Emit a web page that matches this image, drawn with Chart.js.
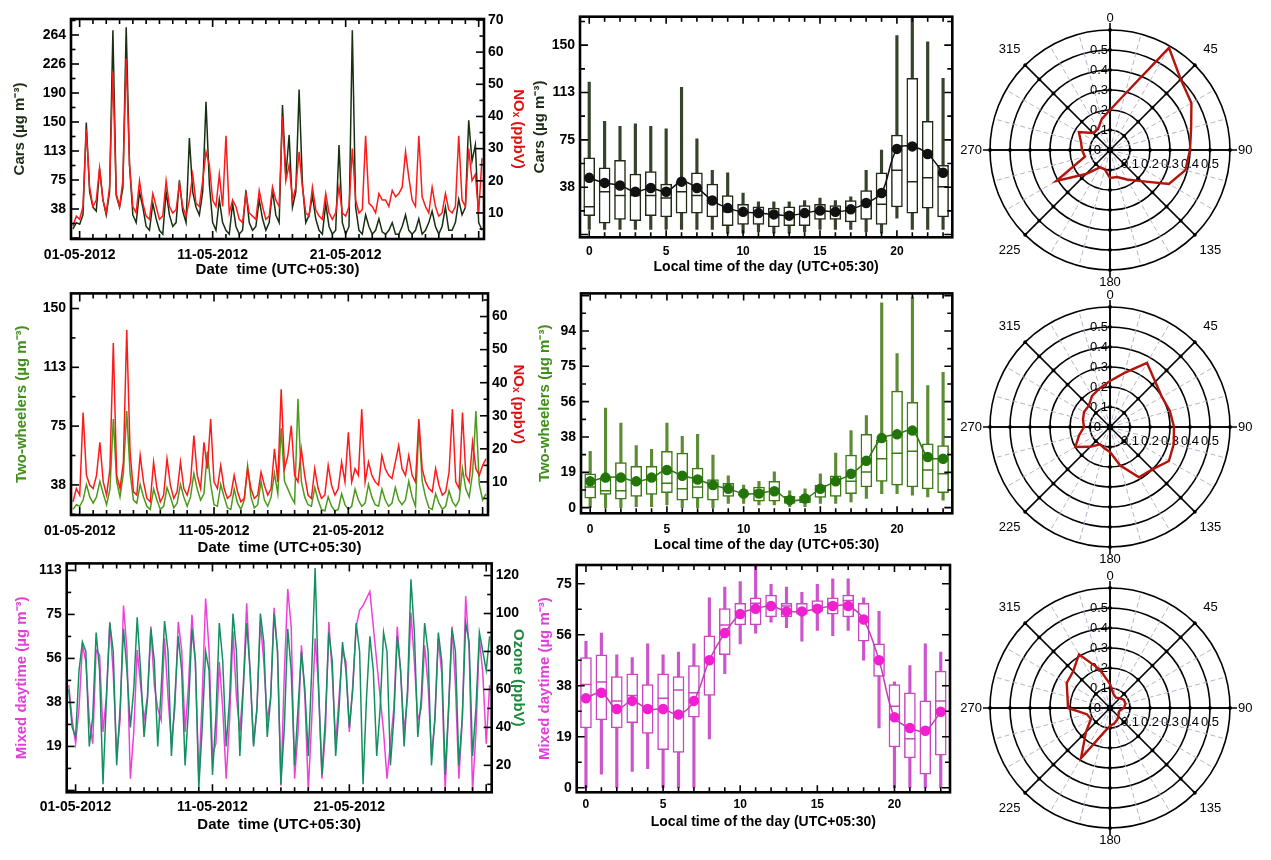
<!DOCTYPE html>
<html>
<head>
<meta charset="utf-8">
<script src="https://cdn.jsdelivr.net/npm/chart.js@4.4.1/dist/chart.umd.min.js"></script>
<style>
  body { margin: 0; background: #fff; width: 1271px; height: 860px; overflow: hidden; position: relative; }
  .p { position: absolute; }
</style>
</head>
<body>
<div class="p" style="left:0;top:0;width:530px;height:285px"><canvas id="ts1"></canvas></div>
<div class="p" style="left:0;top:280px;width:530px;height:285px"><canvas id="ts2"></canvas></div>
<div class="p" style="left:0;top:550px;width:530px;height:310px"><canvas id="ts3"></canvas></div>
<div class="p" style="left:520px;top:0;width:440px;height:285px"><canvas id="bx1"></canvas></div>
<div class="p" style="left:520px;top:280px;width:440px;height:285px"><canvas id="bx2"></canvas></div>
<div class="p" style="left:520px;top:550px;width:440px;height:310px"><canvas id="bx3"></canvas></div>
<div class="p" style="left:960px;top:0;width:311px;height:295px"><canvas id="po1"></canvas></div>
<div class="p" style="left:960px;top:280px;width:311px;height:285px"><canvas id="po2"></canvas></div>
<div class="p" style="left:960px;top:550px;width:311px;height:310px"><canvas id="po3"></canvas></div>

<script>
// Time series: one sample every 6 h, first one at 30-04-2012 12:00 (day -0.5)
const tsStartDay = -0.5;
const tsStepDay = 0.25;
const dateTickLabels = ['01-05-2012', '11-05-2012', '21-05-2012'];

const carsTs = [12, 20,
  18, 30, 150, 60,  40, 35, 90, 50,  30, 60, 270, 55,  40, 65, 274, 95,  30, 20, 60, 40,
  15, 10, 45, 25,  10, 5, 60, 30,  15, 20, 75, 35,  20, 130, 60, 40,  30, 60, 177, 70,
  20, 10, 50, 20,  10, 5, 45, 15,  5, 10, 62, 20,  10, 15, 50, 25,  10, 20, 62, 30,
  20, 173, 80, 134,  40, 60, 193, 70,  20, 30, 55, 25,  10, 5, 45, 15,  5, 10, 121, 20,
  5, 15, 270, 40,  10, 5, 30, 15,  5, 10, 25, 8,  5, 10, 20, 5,  5, 15, 30, 10,
  5, 10, 25, 5,  10, 20, 35, 15,  5, 15, 40, 10,  10, 20, 50, 30,  40, 153, 100, 121,
  20, 10];
const noxTs1 = [6, 9,
  8, 12, 36, 18,  12, 14, 24, 14,  10, 18, 54, 16,  12, 20, 58, 25,  12, 10, 20, 13,
  9, 8, 16, 12,  8, 9, 20, 12,  10, 11, 19, 12,  9, 14, 22, 13,  12, 20, 29, 25,
  14, 12, 22, 12,  34, 10, 14, 12,  8, 7, 16, 10,  9, 8, 17, 12,  8, 9, 18, 14,
  12, 40, 20, 25,  14, 18, 29, 18,  10, 9, 18, 11,  9, 8, 16, 10,  8, 10, 18, 10,
  9, 12, 30, 14,  10, 11, 34, 13,  12, 10, 16, 14,  14, 12, 17, 15,  16, 18, 29, 21,
  14, 12, 34, 15,  12, 10, 18, 12,  9, 10, 16, 11,  10, 12, 34, 14,  12, 30, 20, 22,
  10, 27];
const twoWheelTs = [22, 25,
  24, 28, 38, 30,  26, 30, 40, 32,  25, 35, 80, 40,  30, 45, 85, 45,  28, 26, 38, 30,
  24, 22, 35, 28,  22, 24, 36, 30,  23, 26, 38, 30,  24, 30, 45, 35,  28, 32, 59, 38,
  25, 24, 38, 30,  23, 22, 35, 26,  22, 28, 50, 30,  23, 25, 40, 28,  24, 30, 45, 32,
  74, 40, 35, 30,  26, 93, 40, 30,  25, 24, 36, 28,  22, 21, 30, 24,  21, 22, 32, 25,
  22, 24, 35, 28,  24, 26, 38, 30,  25, 24, 35, 28,  24, 26, 36, 28,  25, 28, 40, 30,
  24, 76, 40, 30,  23, 22, 32, 26,  22, 24, 34, 27,  24, 28, 48, 35,  30, 45, 85, 38,
  28, 32];
const noxTs2 = [4, 8,
  6, 31, 12, 9,  8, 12, 22, 10,  6, 14, 52, 12,  8, 16, 56, 19,  7, 6, 18, 10,
  5, 4, 16, 8,  4, 6, 17, 9,  5, 7, 16, 8,  6, 10, 24, 12,  8, 22, 14, 29,
  10, 8, 15, 8,  5, 6, 12, 7,  4, 5, 14, 8,  5, 6, 13, 9,  6, 8, 20, 10,
  38, 14, 18, 27,  12, 10, 20, 12,  6, 5, 14, 8,  5, 6, 15, 9,  6, 8, 16, 10,
  25, 10, 14, 12,  32, 10, 16, 12,  10, 9, 18, 14,  12, 11, 16, 21,  14, 12, 18, 12,
  10, 29, 14, 10,  8, 7, 14, 9,  6, 7, 13, 32,  10, 8, 31, 12,  10, 22, 14, 12,
  15, 17];
const mixedTs = [45, 30,
  20, 35, 62, 55,  30, 20, 60, 58,  25, 40, 72, 50,  15, 30, 79, 60,  5, 25, 60, 45,
  30, 40, 70, 45,  35, 30, 65, 40,  20, 35, 72, 60,  25, 45, 75, 55,  5, 40, 82, 60,
  15, 20, 55, 35,  5, 30, 68, 40,  25, 45, 80, 50,  20, 35, 72, 55,  30, 40, 78, 60,
  2, 50, 86, 70,  5, 25, 62, 40,  0, 30, 65, 45,  5, 25, 72, 50,  20, 40, 60, 55,
  25, 45, 70, 77,  79, 82, 85, 70,  55, 40, 25, 5,  20, 35, 70, 50,  25, 40, 76, 55,
  30, 35, 62, 45,  15, 30, 65, 50,  0, 35, 70, 45,  5, 30, 83, 60,  0, 25, 65, 50,
  20, 45];
const ozoneTs = [60, 40,
  35, 70, 85, 80,  30, 45, 90, 70,  10, 55, 95, 80,  20, 50, 92, 70,  40, 60, 98, 70,
  35, 55, 92, 75,  30, 60, 96, 80,  25, 55, 88, 70,  20, 50, 92, 75,  8, 40, 80, 70,
  15, 45, 95, 75,  30, 55, 100, 80,  25, 60, 95, 70,  30, 50, 100, 85,  35, 55, 100, 80,
  10, 40, 92, 70,  20, 50, 80, 60,  25, 70, 124, 60,  15, 45, 90, 75,  25, 50, 85, 70,
  40, 60, 95, 80,  10, 55, 88, 70,  25, 50, 90, 80,  20, 45, 88, 70,  30, 60, 118, 90,
  35, 55, 95, 80,  20, 45, 90, 75,  15, 50, 92, 80,  20, 45, 95, 85,  25, 50, 90, 80,
  70, 88];

// Tick labels as printed on the figure
const carsTsTicks = ['38', '75', '113', '150', '190', '226', '264'];
const nox1Ticks = ['10', '20', '30', '40', '50', '60', '70'];
const twoTsTicks = ['38', '75', '113', '150'];
const nox2Ticks = ['10', '20', '30', '40', '50', '60'];
const mixedTsTicks = ['19', '38', '56', '75', '113'];
const ozoneTicks = ['20', '40', '60', '80', '100', '120'];
const hourTicks = ['0', '5', '10', '15', '20'];
const carsBoxTicks = ['38', '75', '113', '150'];
const twoBoxTicks = ['0', '19', '38', '56', '75', '94'];
const mixedBoxTicks = ['0', '19', '38', '56', '75'];

// Diurnal statistics per hour of day
const hours = [0, 1, 2, 3, 4, 5, 6, 7, 8, 9, 10, 11, 12, 13, 14, 15, 16, 17, 18, 19, 20, 21, 22, 23];
const carsLo   = [4, 4, 4, 4, 4, 4, 4, 4, 4, 1, 1, 2, 1, 1, 2, 4, 4, 4, 2, 1, 13, 4, 4, 4];
const carsQ1   = [15, 9, 12, 11, 15, 14, 17, 17, 14, 7, 8, 8, 6, 7, 7, 12, 12, 10, 12, 8, 22, 17, 21, 14];
const carsMed  = [22, 34, 31, 31, 31, 29, 34, 31, 27, 18, 18, 17, 16, 17, 18, 18, 18, 19, 26, 24, 51, 42, 45, 38];
const carsQ3   = [61, 53, 59, 48, 50, 40, 42, 49, 40, 31, 24, 22, 21, 22, 23, 24, 23, 27, 35, 49, 79, 124, 90, 55];
const carsHi   = [121, 90, 86, 88, 86, 84, 117, 76, 51, 49, 33, 26, 26, 26, 27, 29, 27, 30, 51, 67, 158, 175, 153, 124];
const carsMean = [45, 41, 39, 34, 37, 34, 42, 37, 27, 21, 18, 17, 16, 15, 17, 19, 18, 20, 25, 33, 68, 70, 64, 49];

const twoLo   = [0, 0, 0, 0.5, 0.5, 1.4, 0, 0, 0, 2.3, 2.3, 1.4, 1.4, 0.5, 0.5, 2.3, 2.3, 3.1, 4.9, 7.5, 7.5, 6.6, 5.7, 4];
const twoQ1   = [5, 7, 4.5, 6, 7, 8, 4, 5, 4, 6, 6.6, 3.5, 3.5, 2.3, 2.6, 5.4, 6, 7.5, 11, 14, 12, 11, 10, 8];
const twoMed  = [11, 9, 9, 13, 15, 13, 10, 11, 12, 10, 7, 9, 10, 4, 4.4, 10, 15, 14, 19, 26, 29, 30, 20, 18];
const twoQ3   = [18, 16, 24, 22, 22, 30, 29, 21, 15, 13, 7.5, 11, 14, 6, 6, 12, 17, 28, 39, 36, 62, 56, 34, 33];
const twoHi   = [30, 53, 45, 33, 31, 45, 38, 39, 28, 17, 12, 14, 19, 9, 10, 18, 29, 41, 49, 109, 82, 112, 65, 72];
const twoMean = [14, 16, 16, 14, 16, 20, 17, 15, 12, 10, 7.5, 7.5, 8.7, 4, 4.9, 10, 14, 18, 25, 37, 39, 41, 27, 26];

const mixLo   = [0, 5, 0, 6, 7, 0, 0, 0, 18, 42, 53, 57, 61, 59, 54, 58, 56, 58, 47, 22, 0, 0, 0, 0];
const mixQ1   = [22, 25, 22, 24, 20, 14, 13, 26, 34, 49, 60, 60, 63, 63, 64, 65, 64, 63, 54, 41, 15, 11, 5, 12];
const mixMed  = [38, 39, 32, 34, 30, 33, 36, 35, 47, 60, 65, 68, 67, 67, 65, 67, 68, 69, 62, 47, 30, 18, 21, 32];
const mixQ3   = [48, 49, 41, 42, 38, 42, 41, 45, 56, 66, 68, 70, 71, 68, 68, 69, 70, 71, 68, 53, 38, 35, 32, 43];
const mixHi   = [54, 57, 49, 48, 53, 49, 50, 53, 70, 74, 76, 82, 75, 74, 72, 75, 77, 77, 70, 65, 39, 45, 53, 50];
const mixMean = [33, 35, 29, 32, 29, 29, 27, 32, 47, 57, 64, 66, 67, 65, 65, 66, 67, 67, 62, 47, 26, 22, 21, 28];

// Wind direction roses (fraction per 15 degree sector)
const windDirs = [0, 15, 30, 45, 60, 75, 90, 105, 120, 135, 150, 165, 180, 195, 210, 225, 240, 255, 270, 285, 300, 315, 330, 345];
const carsRose     = [0.20, 0.29, 0.59, 0.50, 0.47, 0.42, 0.40, 0.39, 0.34, 0.22, 0.17, 0.14, 0.14, 0.10, 0.10, 0.17, 0.31, 0.13, 0.14, 0.15, 0.18, 0.12, 0.12, 0.16];
const twoWheelRose = [0.23, 0.28, 0.37, 0.32, 0.30, 0.31, 0.32, 0.33, 0.34, 0.30, 0.29, 0.20, 0.125, 0.11, 0.10, 0.14, 0.20, 0.16, 0.13, 0.14, 0.15, 0.15, 0.18, 0.20];
const mixedRose    = [0.12, 0.07, 0.06, 0.07, 0.08, 0.08, 0.07, 0.05, 0.05, 0.06, 0.07, 0.08, 0.09, 0.13, 0.29, 0.17, 0.11, 0.12, 0.21, 0.22, 0.25, 0.26, 0.31, 0.20];
const compassLabels = ['0', '45', '90', '135', '180', '225', '270', '315'];
const ringLabels = ['0', '0.1', '0.2', '0.3', '0.4', '0.5'];

Chart.defaults.font.family = '"Liberation Sans", Arial, sans-serif';
Chart.defaults.color = '#000';

// box frame + inward tick marks on every side
const frame = {
  id: 'frame',
  afterDatasetsDraw(chart, args, o) {
    const {ctx, chartArea: a, scales} = chart;
    ctx.save();
    ctx.strokeStyle = '#000';
    ctx.lineWidth = 1.6;
    const marks = (scale, spec, edges) => {
      if (!spec || !scale) return;
      const k0 = Math.ceil(scale.min / spec.step - 1e-9);
      const k1 = Math.floor(scale.max / spec.step + 1e-9);
      for (let k = k0; k <= k1; k++) {
        const p = scale.getPixelForValue(k * spec.step);
        const len = k % spec.every === 0 ? spec.major : spec.minor;
        ctx.beginPath();
        edges.forEach(e => {
          if (e === 'bottom') { ctx.moveTo(p, a.bottom); ctx.lineTo(p, a.bottom - len); }
          if (e === 'top') { ctx.moveTo(p, a.top); ctx.lineTo(p, a.top + len); }
          if (e === 'left') { ctx.moveTo(a.left, p); ctx.lineTo(a.left + len, p); }
          if (e === 'right') { ctx.moveTo(a.right, p); ctx.lineTo(a.right - len, p); }
        });
        ctx.stroke();
      }
    };
    marks(scales.x, o.x, ['bottom', 'top']);
    marks(scales.y, o.y, o.y2 ? ['left'] : ['left', 'right']);
    marks(scales.y2, o.y2, ['right']);
    ctx.lineWidth = 2.6;
    ctx.strokeRect(a.left, a.top, a.right - a.left, a.bottom - a.top);
    ctx.restore();
  }
};

function axis(o) {
  return {
    type: 'linear', position: o.position, min: o.min, max: o.max, offset: false,
    grid: {display: false, drawTicks: false}, border: {display: false},
    afterBuildTicks: s => { s.ticks = o.labels.map((_, i) => ({value: o.start + i * o.step})); },
    afterFit: s => { if (s.isHorizontal()) s.height = o.size; else s.width = o.size; },
    ticks: {autoSkip: false, maxRotation: 0, padding: o.pad, color: '#000',
      font: {size: o.font || 14, weight: 'bold'}, callback: (v, i) => o.labels[i]},
    title: {display: true, text: o.title, color: o.titleColor || '#000',
      font: {size: o.titleSize || 15, weight: 'bold'}, padding: {top: o.titlePad, bottom: o.titlePad}}
  };
}

function tsChart(id, c) {
  const ds = c.series.map(s => ({
    data: s.values.map((v, i) => ({x: tsStartDay + i * tsStepDay, y: v})),
    borderColor: s.color, borderWidth: 1.5, pointRadius: 0, yAxisID: s.axis
  }));
  new Chart(document.getElementById(id), {
    type: 'line',
    data: {datasets: ds},
    options: {
      animation: false, events: [], responsive: true, maintainAspectRatio: false,
      layout: {padding: {top: c.top, right: 0, bottom: 0, left: 0}},
      plugins: {legend: {display: false}, tooltip: {enabled: false}, frame: c.frame},
      scales: {x: c.x, y: c.y, y2: c.y2}
    },
    plugins: [frame]
  });
}

function boxChart(id, c) {
  const pts = arr => hours.map((h, i) => ({x: h, y: arr[i]}));
  const rng = (a, b) => hours.map((h, i) => ({x: h, y: [a[i], b[i]]}));
  new Chart(document.getElementById(id), {
    type: 'bar',
    data: {datasets: [
      {type: 'line', data: pts(c.mean), borderColor: c.meanLine, borderWidth: 1.5, tension: 0.35,
        pointRadius: 4.5, pointBackgroundColor: c.dot, pointBorderColor: c.dot, order: 0},
      {type: 'line', data: pts(c.med), showLine: false, pointStyle: 'line', pointRadius: 5.5,
        pointBorderWidth: 1.5, pointBorderColor: c.box, order: 1},
      {type: 'bar', data: rng(c.q1, c.q3), backgroundColor: '#fff', borderColor: c.box, borderWidth: 1.5,
        borderSkipped: false, barThickness: 11, grouped: false, order: 2},
      {type: 'bar', data: rng(c.lo, c.hi), backgroundColor: c.whisker, barThickness: 2.5, grouped: false, order: 3}
    ]},
    options: {
      animation: false, events: [], responsive: true, maintainAspectRatio: false,
      layout: {padding: {top: c.top, right: c.right, bottom: 0, left: 0}},
      plugins: {legend: {display: false}, tooltip: {enabled: false}, frame: c.frame},
      scales: {x: c.x, y: c.y}
    },
    plugins: [frame]
  });
}

// rose decorations: axis extensions, ring dots, compass and ring labels
const roseDecor = {
  id: 'roseDecor',
  beforeDatasetsDraw(chart) {
    const s = chart.scales.r, ctx = chart.ctx;
    const cx = s.xCenter, cy = s.yCenter, R = s.drawingArea;
    ctx.save();
    ctx.strokeStyle = '#000';
    ctx.fillStyle = '#000';
    ctx.lineWidth = 1.6;
    ctx.beginPath();
    ctx.moveTo(cx - R - 7, cy); ctx.lineTo(cx + R + 7, cy);
    ctx.moveTo(cx, cy - R - 7); ctx.lineTo(cx, cy + R + 7);
    ctx.stroke();
    s.ticks.forEach(t => {
      const d = s.getDistanceFromCenterForValue(t.value);
      for (let k = 0; k < 8; k++) {
        const p = s.getPointPosition(k * 3, d);
        ctx.beginPath();
        ctx.arc(p.x, p.y, d === 0 ? 2.8 : 1.9, 0, Math.PI * 2);
        ctx.fill();
      }
    });
    ctx.font = '13px "Liberation Sans", Arial, sans-serif';
    ctx.textBaseline = 'middle';
    compassLabels.forEach((t, k) => {
      const idx = windDirs.indexOf(Number(t));
      const d = k % 2 === 1 ? R + 22 : (k % 4 === 0 ? R + 12 : R + 8);
      const p = s.getPointPosition(idx, d);
      ctx.textAlign = k === 2 ? 'left' : (k === 6 ? 'right' : 'center');
      ctx.fillText(t, p.x, p.y);
    });
    ringLabels.forEach(t => {
      const r = s.getDistanceFromCenterForValue(Number(t));
      ctx.textAlign = 'right';
      ctx.fillText(t, t === '0' ? cx - 9 : cx - 2, cy - r);
      if (t !== '0') {
        ctx.textAlign = 'center';
        ctx.fillText(t, cx + r, cy + 14);
      }
    });
    ctx.restore();
  }
};

function roseChart(id, values, padding) {
  new Chart(document.getElementById(id), {
    type: 'radar',
    data: {labels: windDirs, datasets: [{data: values, borderColor: '#b3140c', borderWidth: 2.4,
      fill: false, pointRadius: 0, tension: 0}]},
    options: {
      animation: false, events: [], responsive: true, maintainAspectRatio: false,
      layout: {padding},
      plugins: {legend: {display: false}, tooltip: {enabled: false}},
      scales: {r: {
        min: 0, max: 0.6,
        ticks: {display: false, stepSize: 0.1},
        grid: {circular: true, color: '#000', lineWidth: 1.6},
        angleLines: {
          color: c => c.index % 3 === 0 ? '#000' : '#b4b4cc',
          lineWidth: c => c.index % 3 === 0 ? 1.6 : 1,
          borderDash: c => c.index % 3 === 0 ? [] : [5, 3]
        },
        pointLabels: {display: false}
      }}
    },
    plugins: [roseDecor]
  });
}

const dateAxis = (size, pad, titlePad) => axis({position: 'bottom', min: -0.65, max: 30.4, start: 0, step: 10,
  labels: dateTickLabels, size, pad, font: 14, title: 'Date  time (UTC+05:30)', titlePad});
const hourAxis = (size, pad, titlePad) => axis({position: 'bottom', min: -0.6, max: 23.6, start: 0, step: 5,
  labels: hourTicks, size, pad, font: 12, title: 'Local time of the day (UTC+05:30)', titleSize: 14, titlePad});
const tsFrame = (y, y2) => ({x: {step: 1, every: 10, major: 8, minor: 5}, y, y2});
const hourFrame = y => ({x: {step: 1, every: 5, major: 7, minor: 5}, y});

tsChart('ts1', {
  top: 19,
  series: [
    {values: noxTs1, color: '#ff1a1a', axis: 'y2'},
    {values: carsTs, color: '#17300f', axis: 'y'}
  ],
  x: dateAxis(46, 8, 6),
  y: axis({position: 'left', min: -1.3, max: 284.7, start: 37.7, step: 37.7, labels: carsTsTicks, size: 71, pad: 5,
    title: 'Cars (µg m⁻³)', titleColor: '#1c2c14', titlePad: 11}),
  y2: axis({position: 'right', min: 1.9, max: 70.3, start: 10, step: 10, labels: nox1Ticks, size: 46, pad: 4,
    title: 'NOₓ (ppbV)', titleColor: '#e01010', titlePad: 3}),
  frame: tsFrame({step: 18.85, every: 2, major: 8, minor: 4.5}, {step: 5, every: 2, major: 8, minor: 4.5})
});

tsChart('ts2', {
  top: 10,
  series: [
    {values: noxTs2, color: '#ff1a1a', axis: 'y2'},
    {values: twoWheelTs, color: '#4c9a1c', axis: 'y'}
  ],
  x: dateAxis(50, 8, 8),
  y: axis({position: 'left', min: 18.4, max: 160.5, start: 37.7, step: 37.7, labels: twoTsTicks, size: 71, pad: 5,
    title: 'Two-wheelers (µg m⁻³)', titleColor: '#3f8f1a', titlePad: 12.7}),
  y2: axis({position: 'right', min: 0, max: 67, start: 10, step: 10, labels: nox2Ticks, size: 42, pad: 4,
    title: 'NOₓ (ppbV)', titleColor: '#e01010', titlePad: 3}),
  frame: tsFrame({step: 18.85, every: 2, major: 8, minor: 4.5}, {step: 5, every: 2, major: 8, minor: 4.5})
});

tsChart('ts3', {
  top: 11,
  series: [
    {values: ozoneTs, color: '#139060', axis: 'y2'},
    {values: mixedTs, color: '#f040dc', axis: 'y'}
  ],
  x: dateAxis(67.7, 6, 26),
  y: axis({position: 'left', min: -0.8, max: 97, start: 18.8, step: 18.8, labels: mixedTsTicks, size: 66.7, pad: 5,
    title: 'Mixed daytime (µg m⁻³)', titleColor: '#e040d8', titlePad: 12.7}),
  y2: axis({position: 'right', min: 5.8, max: 126.4, start: 20, step: 20, labels: ozoneTicks, size: 38.3, pad: 4,
    title: 'Ozone (ppbV)', titleColor: '#1a8a3a', titlePad: 3}),
  frame: tsFrame({step: 9.4, every: 2, major: 8, minor: 4.5}, {step: 10, every: 2, major: 8, minor: 4.5})
});

boxChart('bx1', {
  top: 16.7, right: 7.7,
  lo: carsLo, q1: carsQ1, med: carsMed, q3: carsQ3, hi: carsHi, mean: carsMean,
  box: '#1e2a14', whisker: '#34432a', meanLine: '#111', dot: '#111',
  x: hourAxis(47.7, 6.7, 9.3),
  y: axis({position: 'left', min: -2.2, max: 173, start: 37.6, step: 37.6, labels: carsBoxTicks, size: 60, pad: 5,
    title: 'Cars (µg m⁻³)', titleColor: '#1c2c14', titlePad: 11}),
  frame: hourFrame({step: 18.8, every: 2, major: 8, minor: 5})
});

boxChart('bx2', {
  top: 9.3, right: 7.7,
  lo: twoLo, q1: twoQ1, med: twoMed, q3: twoQ3, hi: twoHi, mean: twoMean,
  box: '#3c7a14', whisker: '#5c8c34', meanLine: '#2c7a0c', dot: '#23750a',
  x: hourAxis(51.7, 9, 11),
  y: axis({position: 'left', min: -3, max: 114, start: 0, step: 18.8, labels: twoBoxTicks, size: 61, pad: 5,
    title: 'Two-wheelers (µg m⁻³)', titleColor: '#3f8f1a', titlePad: 16}),
  frame: hourFrame({step: 9.4, every: 2, major: 8, minor: 5})
});

boxChart('bx3', {
  top: 15, right: 10,
  lo: mixLo, q1: mixQ1, med: mixMed, q3: mixQ3, hi: mixHi, mean: mixMean,
  box: '#c848c0', whisker: '#cc55cc', meanLine: '#c040b8', dot: '#f020d0',
  x: hourAxis(67.7, 5, 29.3),
  y: axis({position: 'left', min: -1.7, max: 82.1, start: 0, step: 18.8, labels: mixedBoxTicks, size: 56.7, pad: 5,
    title: 'Mixed daytime (µg m⁻³)', titleColor: '#e040d8', titlePad: 16}),
  frame: hourFrame({step: 9.4, every: 2, major: 8, minor: 5})
});

roseChart('po1', carsRose, {top: 30.7, right: 40.3, bottom: 24.3, left: 30.7});
roseChart('po2', twoWheelRose, {top: 27.3, right: 40.3, bottom: 17.7, left: 30.7});
roseChart('po3', mixedRose, {top: 38.3, right: 40.3, bottom: 31.7, left: 30.7});
</script>
</body>
</html>
